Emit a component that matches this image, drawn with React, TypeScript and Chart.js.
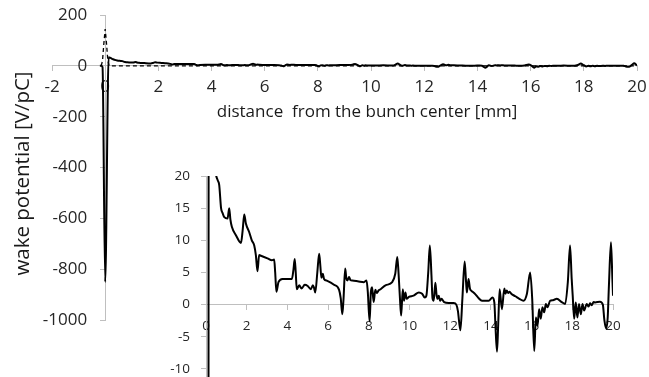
import React, { useEffect, useRef } from "react";
import { Chart, registerables, LinearScale } from "chart.js";

Chart.register(...registerables);

// Linear scale whose vertical labels sit beside an axis crossing inside the plot
class CrossLinearScale extends LinearScale {
  static id = "crossLinear";
  _computeLabelItems(chartArea: any) {
    const items = (LinearScale.prototype as any)._computeLabelItems.call(this, chartArea);
    if (!this.isHorizontal()) {
      const opts: any = this.options;
      const shift = opts.grid.tickLength + opts.ticks.padding;
      items.forEach((it: any) => {
        it.options.translation[0] -= shift;
      });
    }
    return items;
  }
}
Chart.register(CrossLinearScale as any);

// Wake potential behind the bunch: distance [mm] and potential [V/pC]
const wakeX = [
  -0.2, -0.15, -0.1, 0, 0.13, 0.2, 0.3, 0.4, 0.49, 0.58, 0.65, 0.74, 0.82, 0.9, 1.06, 1.14, 1.2, 1.27,
  1.47, 1.72, 1.8, 1.88, 1.96, 2.12, 2.25, 2.37, 2.45, 2.53, 2.61, 2.7, 3.02, 3.24, 3.35, 3.4,
  3.46, 3.56, 3.76, 4.22, 4.3, 4.36, 4.41, 4.46, 4.58, 4.7, 4.85, 5.0, 5.15, 5.25, 5.31, 5.37,
  5.47, 5.56, 5.62, 5.67, 5.74, 5.8, 5.96, 6.29, 6.54, 6.62, 6.7, 6.76, 6.84, 6.9, 6.95, 7.03,
  7.1, 7.19, 7.5, 7.76, 7.89, 7.95, 8.04, 8.1, 8.16, 8.24, 8.32, 8.4, 8.48, 8.58, 8.82, 9.15,
  9.3, 9.4, 9.46, 9.53, 9.59, 9.67, 9.73, 9.8, 9.86, 9.97, 10.2, 10.46, 10.62, 10.75, 10.83,
  10.92, 11.0, 11.08, 11.13, 11.19, 11.27, 11.33, 11.38, 11.44, 11.5, 11.57, 11.7, 11.93, 12.17,
  12.3, 12.38, 12.5, 12.6, 12.71, 12.78, 12.82, 12.9, 12.97, 13.02, 13.1, 13.24, 13.4, 13.56,
  13.89, 14.08, 14.17, 14.22, 14.3, 14.36, 14.43, 14.54, 14.66, 14.72, 14.78, 14.85, 14.92, 15.0,
  15.2, 15.4, 15.6, 15.77, 15.93, 16.03, 16.13, 16.21, 16.29, 16.37, 16.45, 16.53, 16.62, 16.7,
  16.78, 16.91, 17.05, 17.24, 17.48, 17.65, 17.78, 17.89, 17.97, 18.02, 18.09, 18.17, 18.25,
  18.33, 18.42, 18.5, 18.58, 18.71, 18.8, 18.87, 18.95, 19.05, 19.12, 19.36, 19.5, 19.58, 19.66,
  19.74, 19.8, 19.9, 19.97, 20.0,
];
const wakeY = [
  0, 0, -5, -850, 34, 31, 26, 22.5, 20.2, 19.3, 18.6, 15.0, 14.2, 13.6, 13.4, 15.0, 13.2, 12.1,
  10.8, 9.6, 11.5, 14.0, 12.6, 11.3, 10.0, 9.2, 7.7, 5.2, 7.7, 7.6, 7.2, 6.9, 7.0, 5.0,
  2.0, 3.5, 4.0, 4.0, 5.5, 7.1, 5.0, 2.4, 3.0, 2.5, 3.1, 2.9, 2.4, 3.0, 2.6, 1.9,
  5.0, 7.9, 6.0, 4.2, 4.8, 4.0, 3.7, 3.1, 2.3, 1.0, -1.5, 1.0, 5.6, 4.0, 3.75, 4.3,
  3.8, 3.75, 3.6, 3.5, 3.75, 2.0, -2.6, 1.9, 2.7, 0.4, 2.3, 1.8, 2.2, 2.4, 3.0, 3.5,
  4.8, 7.4, 5.0, 1.0, -1.7, 2.4, 0.6, 1.9, 0.9, 1.2, 1.4, 1.9, 1.7, 1.1, 1.4,
  5.0, 9.2, 4.5, 1.0, 0.6, 3.4, 1.5, 0.9, 1.4, 0.6, 0.9, 0.4, 0.25, 0.25,
  0.0, -1.0, -4.0, 1.0, 6.7, 3.5, 1.9, 4.0, 2.5, 2.2, 2.0, 1.6, 1.0, 0.6,
  0.6, 1.1, 0.3, -3.0, -7.3, -3.0, 2.4, -0.7, 2.5, 1.7, 2.2, 1.8, 2.0, 1.7,
  1.3, 0.9, 0.6, 1.7, 5.0, 0.9, -7.2, -2.0, -3.3, -0.7, -2.2, -0.4, -1.2, 0.1,
  -0.4, 0.6, 0.7, 0.9, 0.4, 0.1, 3.5, 9.2, 4.0, 1.4, -2.2, 0.35, -2.0,
  0.1, -1.5, 0.1, -0.9, 0.1, -0.3, 0.2, -0.1, 0.4, 0.35, 0.45, 0.0, -2.5, -3.7,
  -2.0, 3.0, 9.7, 4.0, 1.4,
];

// Bunch line density (dashed)
const bunchX = [-0.15, -0.1, -0.05, 0, 0.05, 0.1, 0.15, 20];
const bunchY = [0, 20, 88, 145, 88, 20, 0, 0];

// Tick values
const mainXTicks = [-2, 0, 2, 4, 6, 8, 10, 12, 14, 16, 18, 20];
const mainYTicks = [-1000, -800, -600, -400, -200, 0, 200];
const insetXTicks = [0, 2, 4, 6, 8, 10, 12, 14, 16, 18, 20];
const insetYTicks = [-10, -5, 0, 5, 10, 15, 20];

const xTitle = "distance  from the bunch center [mm]";
const yTitle = "wake potential [V/pC]";

const FONT = "'Open Sans', 'Noto Sans', sans-serif";
const AXIS_GREY = "#bfbfbf";
const TEXT = "#262626";

const toPoints = (xs: number[], ys: number[]) => xs.map((x, i) => ({ x, y: ys[i] }));

const fixedTicks = (values: number[]) => (scale: any) => {
  scale.ticks = values.map((v) => ({ value: v }));
};

const axisTitles = {
  id: "axisTitles",
  afterDraw(chart: any) {
    const { ctx, chartArea, scales } = chart;
    const xs = scales.x;
    const ys = scales.y;
    ctx.save();
    ctx.fillStyle = "#1a1a1a";
    ctx.textAlign = "center";
    ctx.textBaseline = "middle";
    ctx.font = `17px ${FONT}`;
    const cx = (xs.getPixelForValue(0) + xs.getPixelForValue(20)) / 2 - 4;
    ctx.fillText(xTitle, cx, ys.getPixelForValue(0) + 46);
    ctx.font = `20.5px ${FONT}`;
    ctx.translate(chartArea.left - 29, (chartArea.top + chartArea.bottom) / 2 + 6);
    ctx.rotate(-Math.PI / 2);
    ctx.fillText(yTitle, 0, 0);
    ctx.restore();
  },
};

const axisStyle = (tickPadding: number, size: number) => ({
  grid: { drawOnChartArea: false, color: AXIS_GREY, tickColor: AXIS_GREY, tickLength: 5 },
  border: { color: AXIS_GREY, width: 1 },
  ticks: {
    color: TEXT,
    padding: tickPadding,
    font: { family: FONT, size },
    callback: (v: any) => String(v),
  },
});

export default function App() {
  const mainRef = useRef<HTMLCanvasElement>(null);
  const insetRef = useRef<HTMLCanvasElement>(null);

  useEffect(() => {
    const main = new Chart(mainRef.current!, {
      type: "line",
      data: {
        datasets: [
          {
            data: toPoints(wakeX, wakeY),
            borderColor: "#000",
            borderWidth: 2,
            pointRadius: 0,
            cubicInterpolationMode: "monotone",
          },
          {
            data: toPoints(bunchX, bunchY),
            borderColor: "#000",
            borderWidth: 1.3,
            borderDash: [4, 3],
            pointRadius: 0,
            tension: 0,
          },
        ],
      },
      options: {
        responsive: false,
        animation: false,
        layout: { padding: { left: 92, right: 52, top: 55, bottom: 97 } },
        plugins: { legend: { display: false }, tooltip: { enabled: false } },
        scales: {
          x: {
            type: "crossLinear",
            min: -2,
            max: 20,
            position: { y: 0 },
            afterBuildTicks: fixedTicks(mainXTicks),
            ...axisStyle(6, 17),
          },
          y: {
            type: "crossLinear",
            min: -1000,
            max: 200,
            position: { x: 0 },
            afterBuildTicks: fixedTicks(mainYTicks),
            ...axisStyle(13, 17),
          },
        },
      } as any,
      plugins: [axisTitles],
    });

    const inset = new Chart(insetRef.current!, {
      type: "line",
      data: {
        datasets: [
          {
            data: toPoints(wakeX, wakeY),
            borderColor: "#000",
            borderWidth: 2,
            pointRadius: 0,
            cubicInterpolationMode: "monotone",
          },
        ],
      },
      options: {
        responsive: false,
        animation: false,
        layout: { padding: { left: 96, right: 76, top: 66, bottom: 40 } },
        plugins: { legend: { display: false }, tooltip: { enabled: false } },
        scales: {
          x: {
            type: "crossLinear",
            min: 0,
            max: 20,
            position: { y: 0 },
            afterBuildTicks: fixedTicks(insetXTicks),
            ...axisStyle(8, 13.5),
          },
          y: {
            type: "crossLinear",
            min: -11.25,
            max: 20,
            position: { x: 0 },
            afterBuildTicks: fixedTicks(insetYTicks),
            ...axisStyle(11, 13.5),
          },
        },
      } as any,
    });

    return () => {
      main.destroy();
      inset.destroy();
    };
  }, []);

  return (
    <div
      style={{
        position: "fixed",
        left: 0,
        top: 0,
        width: 649,
        height: 377,
        overflow: "hidden",
        background: "#fff",
      }}
    >
      <canvas
        ref={mainRef}
        width={729}
        height={457}
        style={{ position: "absolute", left: -40, top: -40, width: 729, height: 457 }}
      />
      <canvas
        ref={insetRef}
        width={579}
        height={307}
        style={{ position: "absolute", left: 110, top: 110, width: 579, height: 307 }}
      />
    </div>
  );
}
